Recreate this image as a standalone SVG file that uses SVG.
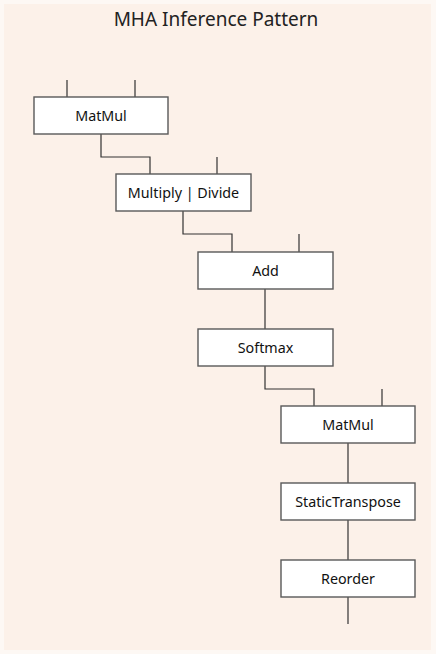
<svg xmlns="http://www.w3.org/2000/svg" width="436" height="654" viewBox="0 0 436 654">
<style>
.box{fill:#fff;stroke:#595959;stroke-width:1.4}
.lbl{font-family:"Noto Sans","Open Sans","DejaVu Sans",sans-serif;font-size:14.3px;fill:#111;text-anchor:middle;dominant-baseline:central}
.title{font-family:"Noto Sans","Open Sans","DejaVu Sans",sans-serif;font-size:19px;fill:#222;text-anchor:middle}
.c{fill:none;stroke:#333;stroke-width:1.2}
</style>
<rect x="0" y="0" width="436" height="654" fill="#fdf8f4"/>
<rect x="4" y="4" width="427" height="646" fill="#fcf1e9"/>
<text class="title" x="216" y="26">MHA Inference Pattern</text>
<g id="connectors">
<path class="c" d="M67 80V97M135 80V97"/>
<path class="c" d="M101 134V157H150V174"/>
<path class="c" d="M217 157V174"/>
<path class="c" d="M183 211V234H232V252"/>
<path class="c" d="M299 234V252"/>
<path class="c" d="M265 289V329"/>
<path class="c" d="M265 366V389H314V406"/>
<path class="c" d="M382 389V406"/>
<path class="c" d="M348 443V483"/>
<path class="c" d="M348 520V560"/>
<path class="c" d="M348 597V624"/>
</g>
<g id="matmul1"><rect class="box" x="34" y="97" width="134" height="37"/><text class="lbl" x="101" y="115.5">MatMul</text></g>
<g id="muldiv"><rect class="box" x="116" y="174" width="135" height="37"/><text class="lbl" x="183.5" y="192.5">Multiply | Divide</text></g>
<g id="add"><rect class="box" x="198" y="252" width="135" height="37"/><text class="lbl" x="265.5" y="270.5">Add</text></g>
<g id="softmax"><rect class="box" x="198" y="329" width="135" height="37"/><text class="lbl" x="265.5" y="347.5">Softmax</text></g>
<g id="matmul2"><rect class="box" x="281" y="406" width="134" height="37"/><text class="lbl" x="348" y="424.5">MatMul</text></g>
<g id="transpose"><rect class="box" x="281" y="483" width="134" height="37"/><text class="lbl" x="348" y="501.5">StaticTranspose</text></g>
<g id="reorder"><rect class="box" x="281" y="560" width="134" height="37"/><text class="lbl" x="348" y="578.5">Reorder</text></g>
</svg>
